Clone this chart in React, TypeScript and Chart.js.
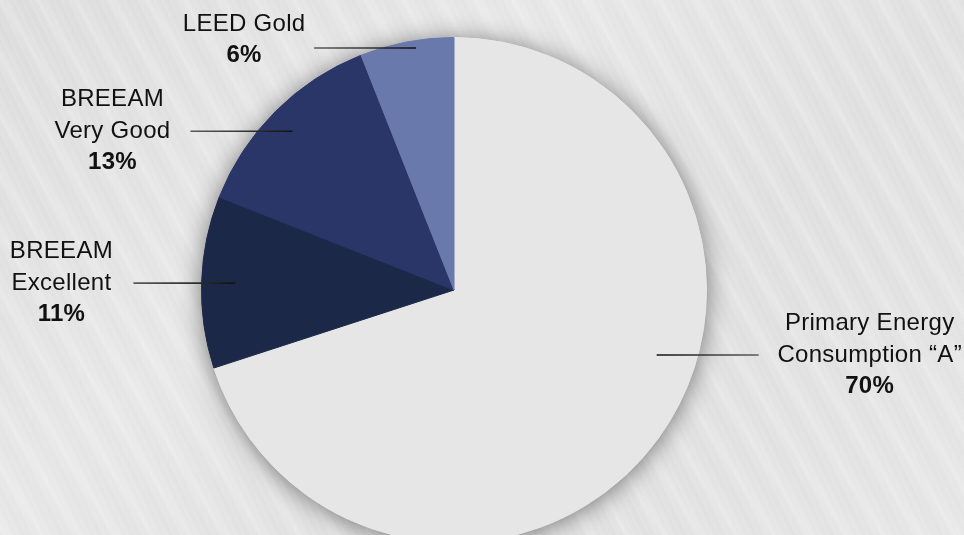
import React, { useEffect, useRef } from "react";
import { Chart, registerables } from "chart.js";

Chart.register(...registerables);

const categories: string[][] = [
  ["Primary Energy", "Consumption \u201CA\u201D"],
  ["BREEAM", "Excellent"],
  ["BREEAM", "Very Good"],
  ["LEED Gold"],
];
const shares: number[] = [70, 11, 13, 6];
const percentLabels: string[] = ["70%", "11%", "13%", "6%"];
const sliceColors: string[] = ["#e6e6e6", "#1c2848", "#2a3568", "#6a79ab"];

// label layout: anchor angle (deg, clockwise from top), anchor radius fraction,
// line direction (+1 right / -1 left), text center offset from line outer end, block shift
const labelLayout = [
  { angle: 107.8, frac: 0.843, dir: 1, textDx: 111, dy: 0 },
  { angle: 271.8, frac: 0.866, dir: -1, textDx: -72, dy: 0 },
  { angle: 314.5, frac: 0.897, dir: -1, textDx: -78, dy: 0 },
  { angle: 351.1, frac: 0.97, dir: -1, textDx: -70, dy: -8 },
];

const FONT = "'Liberation Sans', Arial, Helvetica, sans-serif";

const shadowPlugin = {
  id: "pieShadow",
  beforeDatasetsDraw(chart: any) {
    const meta = chart.getDatasetMeta(0);
    const arc = meta.data[0];
    if (!arc) return;
    const { x, y, outerRadius } = arc.getProps(["x", "y", "outerRadius"], true);
    const ctx = chart.ctx;
    ctx.save();
    ctx.shadowColor = "rgba(0,0,0,0.5)";
    ctx.shadowBlur = 24;
    ctx.shadowOffsetX = 0;
    ctx.shadowOffsetY = 2;
    ctx.fillStyle = "#e6e6e6";
    ctx.beginPath();
    ctx.arc(x, y, outerRadius - 0.5, 0, Math.PI * 2);
    ctx.fill();
    ctx.restore();
  },
};

const labelPlugin = {
  id: "leaderLabels",
  afterDatasetsDraw(chart: any) {
    const meta = chart.getDatasetMeta(0);
    const arc = meta.data[0];
    if (!arc) return;
    const { x: cx, y: cy, outerRadius: r } = arc.getProps(["x", "y", "outerRadius"], true);
    const ctx = chart.ctx;
    ctx.save();
    const lineLen = 102;
    const lh = 31.5;
    categories.forEach((lines, i) => {
      const L = labelLayout[i];
      const a = (L.angle * Math.PI) / 180;
      const ix = cx + r * L.frac * Math.sin(a);
      const iy = cy - r * L.frac * Math.cos(a);
      const ox = ix + L.dir * lineLen;
      const grad = ctx.createLinearGradient(ox, iy, ix, iy);
      grad.addColorStop(0, "#5a5a5a");
      grad.addColorStop(1, "#111111");
      ctx.strokeStyle = grad;
      ctx.lineWidth = 1.6;
      ctx.beginPath();
      ctx.moveTo(ix, iy);
      ctx.lineTo(ox, iy);
      ctx.stroke();

      const all = [...lines, percentLabels[i]];
      const n = all.length;
      const tx = ox + L.textDx;
      const startY = iy + L.dy - ((n - 1) * lh) / 2;
      ctx.textAlign = "center";
      ctx.textBaseline = "middle";
      ctx.fillStyle = "#111111";
      (ctx as any).letterSpacing = "0.3px";
      all.forEach((t, k) => {
        const bold = k === n - 1;
        ctx.font = `${bold ? "bold " : ""}24px ${FONT}`;
        ctx.fillText(t, tx, startY + k * lh);
      });
    });
    ctx.restore();
  },
};

export default function App() {
  const canvasRef = useRef<HTMLCanvasElement | null>(null);

  useEffect(() => {
    document.body.style.margin = "0";
    const canvas = canvasRef.current;
    if (!canvas) return;
    const chart = new Chart(canvas, {
      type: "pie",
      data: {
        labels: categories.map((c) => c.join(" ")),
        datasets: [
          {
            data: shares,
            backgroundColor: sliceColors,
            borderColor: sliceColors,
            borderWidth: 1,
            hoverOffset: 0,
          },
        ],
      },
      options: {
        responsive: false,
        animation: false,
        layout: { padding: { top: 37, bottom: 37, left: 201, right: 257 } },
        plugins: {
          legend: { display: false },
          tooltip: { enabled: false },
        },
      },
      plugins: [shadowPlugin, labelPlugin],
    });
    return () => chart.destroy();
  }, []);

  return (
    <div
      style={{
        position: "absolute",
        left: 0,
        top: 0,
        width: 964,
        height: 535,
        overflow: "hidden",
        background:
          "repeating-linear-gradient(58deg, rgba(255,255,255,0) 0px, rgba(255,255,255,0.18) 5px, rgba(255,255,255,0) 13px, rgba(0,0,0,0.012) 23px, rgba(255,255,255,0) 31px), repeating-linear-gradient(64deg, rgba(255,255,255,0) 0px, rgba(255,255,255,0.12) 2px, rgba(255,255,255,0) 7px), linear-gradient(135deg, #dddddd 0%, #e7e7e7 35%, #e0e0e0 65%, #e6e6e6 100%)",
      }}
    >
      <canvas ref={canvasRef} width={964} height={580} style={{ display: "block" }} />
    </div>
  );
}
